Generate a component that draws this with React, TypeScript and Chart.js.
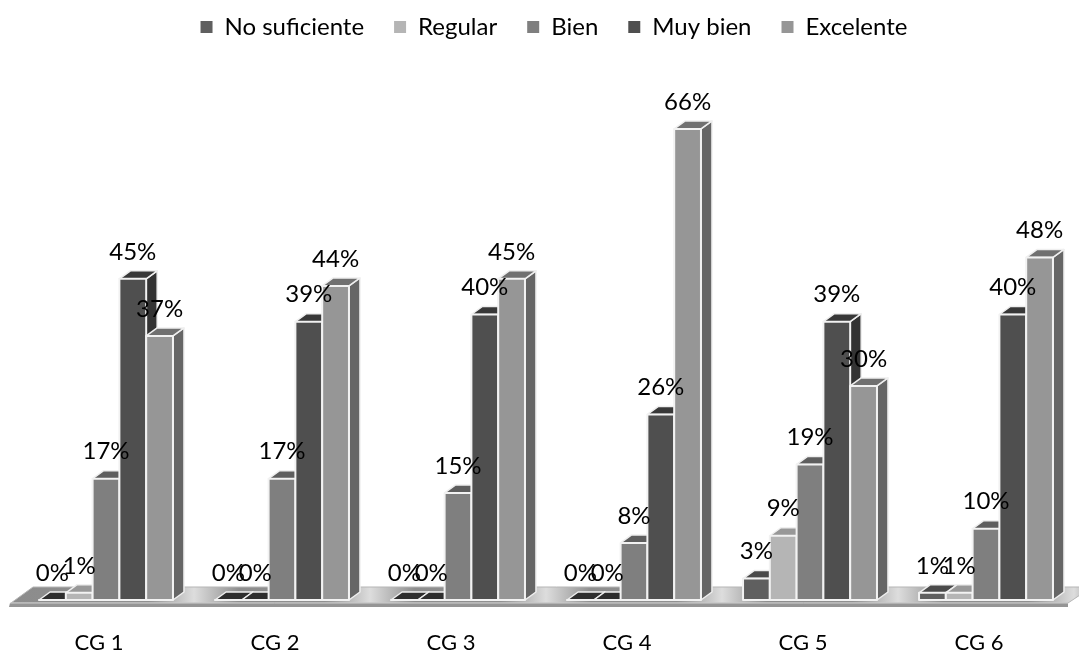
import React, { useEffect, useRef } from "react";
import { Chart, registerables } from "chart.js";

Chart.register(...registerables);

const categories = ["CG 1", "CG 2", "CG 3", "CG 4", "CG 5", "CG 6"];
const noSuficiente = [0, 0, 0, 0, 3, 1];
const regular = [1, 0, 0, 0, 9, 1];
const bien = [17, 17, 15, 8, 19, 10];
const muyBien = [45, 39, 40, 26, 39, 40];
const excelente = [37, 44, 45, 66, 30, 48];

const seriesNames = ["No suficiente", "Regular", "Bien", "Muy bien", "Excelente"];
const seriesValues = [noSuficiente, regular, bien, muyBien, excelente];
const frontColors = ["#5f5f5f", "#b5b5b5", "#7f7f7f", "#4f4f4f", "#969696"];
const topColors = ["#4a4a4a", "#989898", "#5e5e5e", "#383838", "#707070"];
const sideColors = ["#404040", "#8a8a8a", "#595959", "#333333", "#666666"];
const zeroColor = "#2e2e2e";

const FONT = "Lato";
const SHIFT_X = 7;
const DEPTH_X = 11;
const DEPTH_Y = 8;

function poly(ctx: CanvasRenderingContext2D, pts: number[][], fill: any, stroke?: string, lw = 1) {
  ctx.beginPath();
  pts.forEach((p, i) => (i ? ctx.lineTo(p[0], p[1]) : ctx.moveTo(p[0], p[1])));
  ctx.closePath();
  ctx.fillStyle = fill;
  ctx.fill();
  if (stroke) {
    ctx.strokeStyle = stroke;
    ctx.lineWidth = lw;
    ctx.lineJoin = "round";
    ctx.stroke();
  }
}

const bars3d = {
  id: "bars3d",
  afterLayout(chart: any) {
    chart.legend.left += 15;
    chart.legend.right += 15;
  },
  beforeDatasetsDraw(chart: any) {
    const { ctx, chartArea: a, scales } = chart;
    const x = scales.x;
    const l = a.left - 1;
    const r = a.right + 1;
    const b = a.bottom;
    const grad = ctx.createLinearGradient(l, 0, r + 30, 0);
    const span = r + 30 - l;
    grad.addColorStop(0, "#8c8c8c");
    categories.forEach((_, i) => {
      const gap = x.getPixelForValue(i) + x.width / categories.length / 2 + SHIFT_X;
      grad.addColorStop(Math.min(1, Math.max(0, (gap - 45 - l) / span)), "#909090");
      grad.addColorStop(Math.min(1, Math.max(0, (gap - l) / span)), "#dddddd");
      grad.addColorStop(Math.min(1, Math.max(0, (gap + 45 - l) / span)), "#8e8e8e");
    });
    poly(ctx, [[l + 23, b - 13], [r + 24, b - 13], [r, b + 3], [l + 1, b + 3]], grad, "#b5b5b5", 1);
    poly(ctx, [[l, b + 3], [r, b + 3], [r, b + 7], [l - 1, b + 7]], "#959595");
    ctx.strokeStyle = "#d0d0d0";
    ctx.lineWidth = 1;
    ctx.beginPath();
    ctx.moveTo(l, b + 3);
    ctx.lineTo(r, b + 3);
    ctx.stroke();
  },
  beforeDatasetDraw() {
    return false;
  },
  afterDatasetsDraw(chart: any) {
    const { ctx } = chart;
    seriesValues.forEach((vals, i) => {
      const meta = chart.getDatasetMeta(i);
      ctx.save();
      ctx.translate(SHIFT_X, 0);
      meta.data.forEach((bar: any, k: number) => {
        const left = bar.x - bar.width / 2;
        const right = bar.x + bar.width / 2;
        const top = bar.y;
        const base = bar.base;
        poly(
          ctx,
          [[right, top], [right + DEPTH_X, top - DEPTH_Y], [right + DEPTH_X, base - DEPTH_Y], [right, base]],
          sideColors[i],
          "#efefef",
          1.5
        );
        poly(
          ctx,
          [[left, top], [left + DEPTH_X, top - DEPTH_Y], [right + DEPTH_X, top - DEPTH_Y], [right, top]],
          vals[k] === 0 ? zeroColor : topColors[i],
          "#efefef",
          1.5
        );
      });
      meta.controller.draw();
      meta.data.forEach((bar: any) => {
        ctx.strokeStyle = "#f2f2f2";
        ctx.lineWidth = 2;
        ctx.strokeRect(bar.x - bar.width / 2, bar.y, bar.width, bar.base - bar.y);
      });
      ctx.restore();
    });
    ctx.save();
    ctx.font = `24px ${FONT}`;
    ctx.fillStyle = "#000000";
    ctx.textAlign = "center";
    ctx.textBaseline = "middle";
    seriesValues.forEach((vals, i) => {
      chart.getDatasetMeta(i).data.forEach((bar: any, k: number) => {
        ctx.fillText(`${vals[k]}%`, bar.x + SHIFT_X, bar.y - 27);
      });
    });
    ctx.restore();
  },
};

export default function App() {
  const ref = useRef<HTMLCanvasElement | null>(null);
  useEffect(() => {
    const chart = new Chart(ref.current as HTMLCanvasElement, {
      type: "bar",
      plugins: [bars3d],
      data: {
        labels: categories,
        datasets: seriesNames.map((label, i) => ({
          label,
          data: seriesValues[i],
          backgroundColor: frontColors[i],
          borderWidth: 0,
          clip: false as any,
          categoryPercentage: 0.761,
          barPercentage: 1,
        })),
      },
      options: {
        responsive: false,
        animation: false,
        devicePixelRatio: 1,
        layout: { padding: { left: 11, right: 12, top: -15, bottom: 0 } },
        plugins: {
          tooltip: { enabled: false },
          legend: {
            position: "top",
            labels: {
              color: "#000000",
              font: { family: FONT, size: 24 },
              boxWidth: 12,
              boxHeight: 12,
              padding: 30,
            },
          },
        },
        scales: {
          x: {
            grid: { display: false, drawTicks: false },
            border: { display: false },
            ticks: { color: "#000000", font: { family: FONT, size: 22 }, padding: 30, maxRotation: 0 },
            afterFit(s: any) {
              s.height = 52;
            },
          },
          y: { display: false, min: 0, max: 77.2 },
        },
      },
    } as any);
    return () => chart.destroy();
  }, []);
  return (
    <div style={{ position: "fixed", left: 0, top: 0, width: 1079, height: 652, background: "#fff" }}>
      <canvas ref={ref} width={1079} height={652} style={{ display: "block" }} />
    </div>
  );
}
